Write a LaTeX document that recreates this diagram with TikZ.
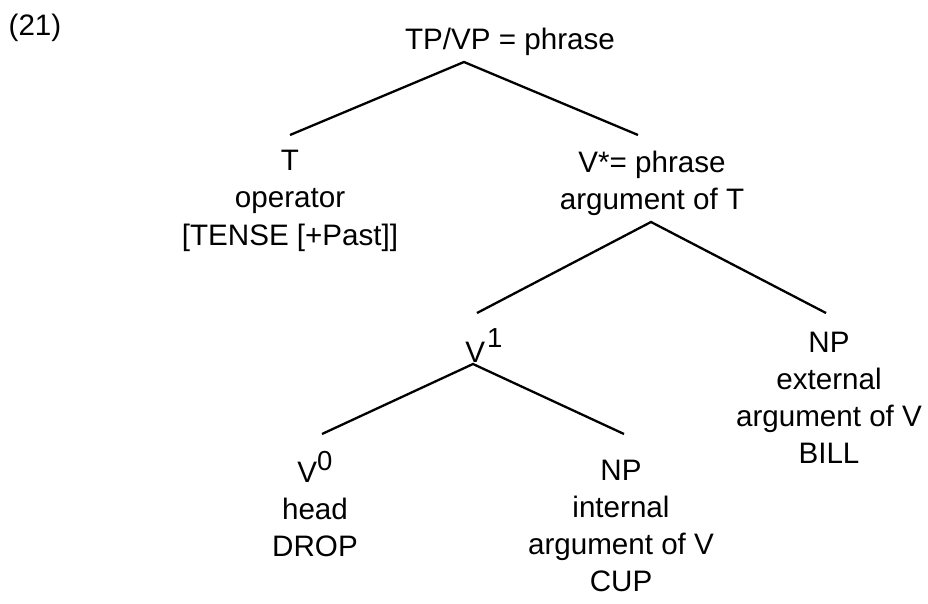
\documentclass[tikz,border=0pt]{standalone}
\usepackage{fontspec}
\setmainfont{Liberation Sans}
\newcommand\linesc[1]{\begin{tabular}[t]{@{}c@{}}#1\end{tabular}}
\newcommand\sups[2]{\raisebox{#1}{\fontsize{27.5}{27.5}\selectfont #2}}
\begin{document}
\begin{tikzpicture}[x=1pt,y=-1pt,
  lab/.style={inner sep=0pt, anchor=base, font=\fontsize{29.6}{37}\selectfont},
  branch/.style={line width=2.3pt}]
\useasboundingbox (0,0) rectangle (928,604);
% labels
\node[lab] (ex)  at (35,36)   {(21)};
\node[lab] (tp)  at (510,50)  {TP/VP = phrase};
\node[lab] (t)   at (290,171) {\linesc{T\\operator\\{[}TENSE {[}+Past{]}{]}}};
\node[lab] (vs)  at (652,172) {\linesc{V*= phrase\\argument of T}};
\node[lab] (v1)  at (484,362) {V\kern2pt\sups{15pt}{1}};
\node[lab] (npe) at (829,352) {\linesc{NP\\external\\argument of V\\BILL}};
\node[lab] (v0)  at (315,482) {\linesc{V\sups{12pt}{0}\\head\\DROP}};
\node[lab] (npi) at (621,480) {\linesc{NP\\internal\\argument of V\\CUP}};
% branch points
\coordinate (tp-b)  at (464,62);
\coordinate (t-t)   at (290,135);
\coordinate (vs-t)  at (638,135);
\coordinate (vs-b)  at (651,222);
\coordinate (v1-t)  at (477,313);
\coordinate (npe-t) at (826,313);
\coordinate (v1-b)  at (473,364);
\coordinate (v0-t)  at (322,434);
\coordinate (npi-t) at (624,434);
% branches
\draw[branch] (t-t) -- (tp-b) -- (vs-t);
\draw[branch] (v1-t) -- (vs-b) -- (npe-t);
\draw[branch] (v0-t) -- (v1-b) -- (npi-t);
\end{tikzpicture}
\end{document}
